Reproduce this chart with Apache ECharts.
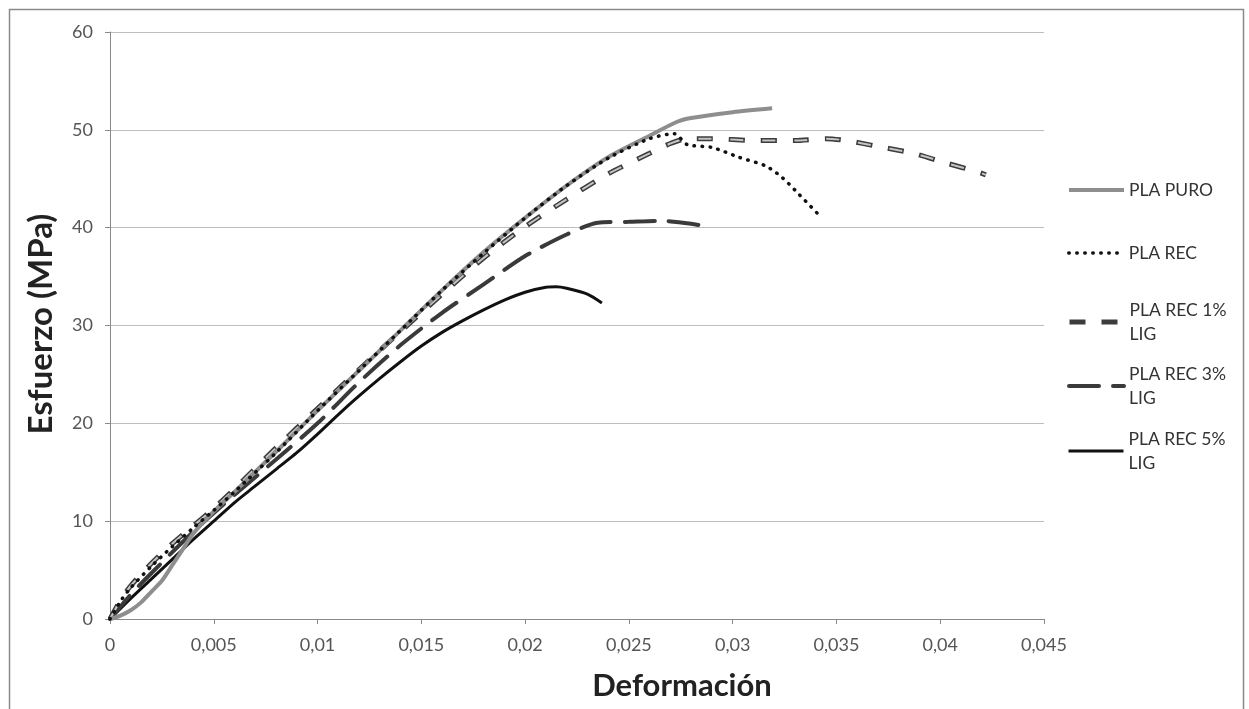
<!DOCTYPE html>
<html>
<head>
<meta charset="utf-8">
<script src="https://cdn.jsdelivr.net/npm/echarts@6/dist/echarts.min.js"></script>
<style>
html,body{margin:0;padding:0;background:#fff;}
#chart{width:1249px;height:709px;}
</style>
</head>
<body>
<div id="chart"></div>
<script>
// ---- data (strain, stress MPa) ----
const seriesNames = ['PLA PURO', 'PLA REC', 'PLA REC 1% LIG', 'PLA REC 3% LIG', 'PLA REC 5% LIG'];

const plaPuro = [[0,0],[0.0005,0.35],[0.001,0.9],[0.0015,1.7],[0.002,2.8],[0.0025,3.9],[0.003,5.5],[0.0035,7.1],[0.004,8.7],[0.005,11.0],[0.006,13.0],[0.008,17.1],[0.01,21.3],[0.012,25.4],[0.014,29.5],[0.016,33.6],[0.018,37.5],[0.02,41.0],[0.022,44.3],[0.024,47.2],[0.026,49.4],[0.0273,50.8],[0.028,51.2],[0.03,51.8],[0.0319,52.2]];

const plaRec = [[0,0],[0.0005,1.8],[0.001,3.2],[0.002,5.4],[0.003,7.4],[0.004,9.3],[0.005,11.1],[0.006,13.0],[0.008,17.0],[0.01,21.3],[0.012,25.4],[0.014,29.5],[0.016,33.6],[0.018,37.4],[0.02,41.0],[0.022,44.3],[0.024,47.1],[0.026,49.1],[0.0272,49.6],[0.0278,48.5],[0.029,48.2],[0.0303,47.2],[0.0316,46.3],[0.0324,45.1],[0.0332,43.4],[0.0342,41.2]];

const plaRec1 = [[0,0],[0.0005,1.9],[0.001,3.4],[0.002,5.7],[0.003,7.7],[0.004,9.5],[0.005,11.3],[0.006,13.3],[0.008,17.5],[0.01,21.5],[0.012,25.5],[0.014,29.4],[0.016,33.2],[0.018,36.9],[0.02,40.1],[0.022,42.9],[0.024,45.5],[0.026,47.6],[0.027,48.6],[0.0278,49.1],[0.029,49.1],[0.031,48.9],[0.033,48.9],[0.0345,49.1],[0.0355,48.9],[0.037,48.3],[0.0387,47.6],[0.0403,46.6],[0.0418,45.7],[0.0422,45.4]];

const plaRec3 = [[0,0],[0.001,2.5],[0.002,4.7],[0.004,8.9],[0.006,12.7],[0.008,16.3],[0.01,20.0],[0.012,24.2],[0.014,28.0],[0.016,31.3],[0.018,34.2],[0.02,37.1],[0.022,39.3],[0.0235,40.5],[0.025,40.6],[0.0265,40.7],[0.028,40.4],[0.029,40.0]];

const plaRec5 = [[0,0],[0.001,2.1],[0.002,4.1],[0.003,6.1],[0.004,8.1],[0.005,10.0],[0.006,11.9],[0.007,13.6],[0.008,15.3],[0.009,17.0],[0.01,18.9],[0.011,20.9],[0.012,22.8],[0.013,24.6],[0.014,26.3],[0.015,27.9],[0.016,29.3],[0.017,30.5],[0.018,31.6],[0.019,32.6],[0.02,33.4],[0.021,33.9],[0.0215,33.95],[0.022,33.8],[0.023,33.2],[0.0237,32.3]];

const xTicks = [0, 0.005, 0.01, 0.015, 0.02, 0.025, 0.03, 0.035, 0.04, 0.045];
const yTicks = [0, 10, 20, 30, 40, 50, 60];
const xTitle = 'Deformación';
const yTitle = 'Esfuerzo (MPa)';

// ---- chart ----
const FONT = 'Lato, "Noto Sans", sans-serif';
const chart = echarts.init(document.getElementById('chart'), null, {renderer: 'canvas'});

const lineStyles = [
  {color: '#8e8e8e', width: 4},
  {color: '#111', width: 3.5, type: [0.5, 7.5], cap: 'round'},
  {color: '#3c3c3c', width: 5, type: [16, 16], cap: 'butt'},
  {color: '#3a3a3a', width: 4, type: [30, 14], cap: 'round'},
  {color: '#111', width: 3}
];

const legendTops = [178, 241, 286, 350, 415];
const legendLabels = ['PLA PURO', 'PLA REC', 'PLA REC 1%\nLIG', 'PLA REC 3%\nLIG', 'PLA REC 5%\nLIG'];
const legends = seriesNames.map((n, i) => ({
  left: 1067, top: legendTops[i], orient: 'vertical', padding: 0,
  itemWidth: 55, itemHeight: 14, itemGap: 0,
  data: [n],
  itemStyle: {opacity: 0, borderWidth: 0},
  lineStyle: Object.assign({}, lineStyles[i]),
  formatter: () => legendLabels[i],
  textStyle: {
    fontFamily: FONT, fontSize: 17.5, color: '#333', lineHeight: 24,
    padding: i >= 2 ? [24, 0, 0, 0] : 0
  }
}));

const baseLine = {type: 'line', smooth: 0.25, showSymbol: false, symbol: 'none', animation: false};

chart.setOption({
  backgroundColor: '#fff',
  animation: false,
  grid: {left: 110, right: 205, top: 32, bottom: 90, containLabel: false},
  legend: legends,
  xAxis: {
    type: 'value', min: 0, max: 0.045, interval: 0.005,
    axisLine: {show: true, lineStyle: {color: '#8a8a8a', width: 1}},
    axisTick: {show: true, length: 5, lineStyle: {color: '#8a8a8a'}},
    splitLine: {show: false},
    axisLabel: {
      margin: 17, color: '#555', fontFamily: FONT, fontSize: 18,
      formatter: v => String(Number(v.toFixed(3))).replace('.', ',')
    }
  },
  yAxis: {
    type: 'value', min: 0, max: 60, interval: 10,
    axisLine: {show: true, lineStyle: {color: '#8a8a8a', width: 1}},
    axisTick: {show: true, length: 5, lineStyle: {color: '#8a8a8a'}},
    splitLine: {show: true, lineStyle: {color: '#bdbdbd', width: 1}},
    axisLabel: {margin: 17, color: '#555', fontFamily: FONT, fontSize: 18}
  },
  graphic: [
    {type: 'rect', shape: {x: 9.5, y: 9.5, width: 1234, height: 720}, style: {fill: 'none', stroke: '#8a8a8a', lineWidth: 1.5}, silent: true, z: -1},
    {type: 'text', x: 682, y: 686, style: {text: xTitle, font: 'bold 31px ' + FONT, fill: '#222', textAlign: 'center', textVerticalAlign: 'middle'}},
    {type: 'text', x: 41, y: 324, rotation: Math.PI / 2, style: {text: yTitle, font: 'bold 33px ' + FONT, fill: '#222', textAlign: 'center', textVerticalAlign: 'middle'}}
  ],
  series: [
    Object.assign({}, baseLine, {name: seriesNames[4], data: plaRec5, z: 3, lineStyle: lineStyles[4]}),
    Object.assign({}, baseLine, {name: seriesNames[3], data: plaRec3, z: 4, lineStyle: lineStyles[3]}),
    Object.assign({}, baseLine, {name: seriesNames[2], data: plaRec1, z: 5, lineStyle: lineStyles[2]}),
    Object.assign({}, baseLine, {name: '_inner1', data: plaRec1, z: 6,
      lineStyle: {color: '#c4c4c4', width: 2, type: [13, 19], dashOffset: -1.5, cap: 'butt'}}),
    Object.assign({}, baseLine, {name: seriesNames[0], data: plaPuro, z: 6, lineStyle: lineStyles[0]}),
    Object.assign({}, baseLine, {name: seriesNames[1], data: plaRec, z: 7, lineStyle: lineStyles[1]})
  ]
});
</script>
</body>
</html>
